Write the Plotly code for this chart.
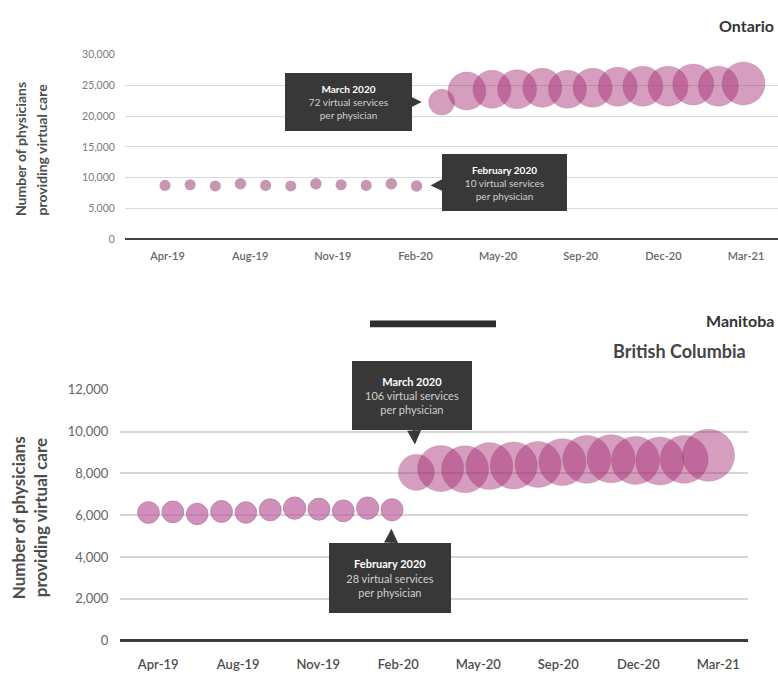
import numpy as np
import plotly.graph_objects as go

# ---------------- data ----------------
months = ['Apr-19', 'May-19', 'Jun-19', 'Jul-19', 'Aug-19', 'Sep-19', 'Oct-19', 'Nov-19',
          'Dec-19', 'Jan-20', 'Feb-20', 'Mar-20', 'Apr-20', 'May-20', 'Jun-20', 'Jul-20',
          'Aug-20', 'Sep-20', 'Oct-20', 'Nov-20', 'Dec-20', 'Jan-21', 'Feb-21', 'Mar-21']
tick_labels = ['Apr-19', 'Aug-19', 'Nov-19', 'Feb-20', 'May-20', 'Sep-20', 'Dec-20', 'Mar-21']

# Ontario: physicians providing virtual care, and virtual services per physician (bubble size)
on_pre_phys = [8730, 8840, 8640, 9000, 8730, 8640, 9000, 8840, 8730, 9000, 8640]
on_pre_services = [9, 9, 9, 10, 9, 9, 10, 9, 9, 10, 10]
on_post_phys = [22270, 24080, 24350, 24350, 24600, 24350, 24600, 24760, 24870, 24870, 25140, 24870, 25300]
on_post_services = [72, 166, 166, 176, 176, 166, 176, 176, 186, 186, 196, 186, 217]

# British Columbia
bc_pre_phys = [6130, 6160, 6060, 6180, 6130, 6260, 6340, 6290, 6210, 6340, 6260]
bc_pre_services = [27, 27, 26, 27, 26, 28, 29, 28, 27, 29, 28]
bc_post_phys = [8050, 8230, 8200, 8350, 8380, 8430, 8540, 8670, 8700, 8620, 8590, 8670, 8870]
bc_post_services = [106, 193, 203, 203, 203, 193, 203, 214, 214, 214, 214, 214, 258]

n_pre = len(on_pre_phys)
pre_x = list(range(n_pre))
post_x = list(range(n_pre, len(months)))


def bubble(v, a, b):
    return [a + b * np.sqrt(x) for x in v]


W, H = 778, 677
FONT = 'Lato'
BUB = 'rgba(165, 45, 115, 0.66)'
BUB_LINE = 'rgba(130, 35, 95, 0.35)'

fig = go.Figure()

# Ontario
fig.add_trace(go.Scatter(x=pre_x, y=on_pre_phys, mode='markers', cliponaxis=False,
                         marker=dict(size=bubble(on_pre_services, 2.9, 2.72), sizemode='diameter',
                                     color='#af6a90', line=dict(width=0)),
                         customdata=[months[i] for i in pre_x], xaxis='x', yaxis='y', showlegend=False))
fig.add_trace(go.Scatter(x=post_x, y=on_post_phys, mode='markers', cliponaxis=False,
                         marker=dict(size=bubble(on_post_services, 2.9, 2.72), sizemode='diameter',
                                     color=BUB, line=dict(width=0.8, color=BUB_LINE)),
                         customdata=[months[i] for i in post_x], xaxis='x', yaxis='y', showlegend=False))
# British Columbia
fig.add_trace(go.Scatter(x=pre_x, y=bc_pre_phys, mode='markers', cliponaxis=False,
                         marker=dict(size=bubble(bc_pre_services, 7.2, 2.79), sizemode='diameter',
                                     color='#be609f', line=dict(width=1, color='#a05186')),
                         customdata=[months[i] for i in pre_x], xaxis='x2', yaxis='y2', showlegend=False))
fig.add_trace(go.Scatter(x=post_x, y=bc_post_phys, mode='markers', cliponaxis=False,
                         marker=dict(size=bubble(bc_post_services, 7.2, 2.79), sizemode='diameter',
                                     color=BUB, line=dict(width=0.8, color=BUB_LINE)),
                         customdata=[months[i] for i in post_x], xaxis='x2', yaxis='y2', showlegend=False))

last = len(months) - 1
on_ticks = list(np.linspace(0, last, len(tick_labels)) + 0.1)
bc_ticks = list(np.linspace(0, last, len(tick_labels)) + 0.4)

fig.update_layout(
    width=W, height=H, autosize=False,
    margin=dict(l=0, r=0, t=0, b=0),
    paper_bgcolor='white', plot_bgcolor='white',
    font=dict(family=FONT),
    xaxis=dict(domain=[125 / W, 1.0], range=[-1.59, 24.37], tickvals=on_ticks, ticktext=tick_labels,
               showgrid=False, zeroline=False, showline=False, ticks='outside', ticklen=7,
               tickcolor='rgba(0,0,0,0)', tickfont=dict(size=11, color='#666666', weight=600),
               anchor='y', fixedrange=True),
    yaxis=dict(domain=[1 - 236.7 / H, 1 - 47.7 / H], range=[0, 30000], tickvals=list(range(0, 30001, 5000)),
               tickformat=',', showgrid=True, gridcolor='#d9d9d9', gridwidth=1,
               zeroline=True, zerolinecolor='#444444', zerolinewidth=2, showline=False,
               ticks='outside', ticklen=7, tickcolor='rgba(0,0,0,0)',
               tickfont=dict(size=10.5, color='#7a7a7a'), anchor='x', fixedrange=True),
    xaxis2=dict(domain=[120 / W, 748 / W], range=[-1.17, 24.62], tickvals=bc_ticks, ticktext=tick_labels,
                showgrid=False, zeroline=False, showline=False, ticks='outside', ticklen=12,
                tickcolor='rgba(0,0,0,0)', tickfont=dict(size=13, color='#4d4d4d', weight=600),
                anchor='y2', fixedrange=True),
    yaxis2=dict(domain=[1 - 648 / H, 1 - 391 / H], range=[0, 12000], tickvals=list(range(0, 12001, 2000)),
                tickformat=',', showgrid=True, gridcolor='#d6d6d6', gridwidth=1.5,
                zeroline=True, zerolinecolor='#3c3c3c', zerolinewidth=3, showline=False,
                ticks='outside', ticklen=8, tickcolor='rgba(0,0,0,0)',
                tickfont=dict(size=13, color='#666666'), anchor='x2', fixedrange=True),
)

ann = []
# axis titles (two lines each, rotated)
for line, xp in [('Number of physicians', 20.5), ('providing virtual care', 42)]:
    ann.append(dict(text='<b>' + line + '</b>', xref='paper', yref='paper', x=xp / W, y=1 - 145 / H,
                    textangle=-90, showarrow=False, xanchor='center', yanchor='middle',
                    font=dict(size=14, color='#4d4d4d', family=FONT)))
for line, xp in [('Number of physicians', 18.5), ('providing virtual care', 40.5)]:
    ann.append(dict(text='<b>' + line + '</b>', xref='paper', yref='paper', x=xp / W, y=1 - 522 / H,
                    textangle=-90, showarrow=False, xanchor='center', yanchor='middle',
                    font=dict(size=17, color='#4d4d4d', family=FONT)))

# region titles
ann.append(dict(text='<b>Ontario</b>', xref='paper', yref='paper', x=776 / W, y=1 - 17.5 / H,
                xanchor='right', yanchor='middle', showarrow=False,
                font=dict(size=16, color='#333333', family=FONT)))
ann.append(dict(text='<b>Manitoba</b>', xref='paper', yref='paper', x=776 / W, y=1 - 320 / H,
                xanchor='right', yanchor='middle', showarrow=False,
                font=dict(size=16, color='#333333', family=FONT)))
ann.append(dict(text='<b>British Columbia</b>', xref='paper', yref='paper', x=748 / W, y=1 - 351 / H,
                xanchor='right', yanchor='middle', showarrow=False,
                font=dict(size=18, color='#454545', family=FONT)))

BOX = '#383838'


def callout(title, services, x, y, xref, yref, ax, ay, w, h, standoff, size, headsize):
    txt = ('<b>' + title + '</b><br><span style="color:#cfcfcf">' + str(services) +
           ' virtual services</span><br><span style="color:#cfcfcf">per physician</span>')
    return dict(text=txt, x=x, y=y, xref=xref, yref=yref, ax=ax, ay=ay, axref='pixel', ayref='pixel',
                showarrow=True, arrowhead=2, arrowsize=headsize, arrowwidth=2, arrowcolor=BOX,
                standoff=standoff, bgcolor=BOX, borderpad=0, borderwidth=0, width=w, height=h,
                align='center', valign='middle',
                font=dict(size=size, color='white', family=FONT))


ann.append(callout('March 2020', on_post_services[0], post_x[0], on_post_phys[0], 'x', 'y',
                   -93, 0, 127, 58, 20, 10, 1.2))
ann.append(callout('February 2020', on_pre_services[-1], pre_x[-1], on_pre_phys[-1], 'x', 'y',
                   88, -3, 125, 57, 14, 10, 1.2))
ann.append(callout('March 2020', bc_post_services[0], post_x[0], bc_post_phys[0], 'x2', 'y2',
                   -4, -77, 120, 69, 28, 11, 1.4))
ann.append(callout('February 2020', bc_pre_services[-1], pre_x[-1], bc_pre_phys[-1], 'x2', 'y2',
                   -2, 68, 122, 70, 19, 11, 1.4))

fig.update_layout(annotations=ann)

# dark divider bar between panels
fig.add_shape(type='rect', xref='paper', yref='paper', x0=370 / W, x1=496 / W,
              y0=1 - 327 / H, y1=1 - 320 / H, fillcolor='#2d2d2d', line=dict(width=0))

fig.write_html('out.html')
